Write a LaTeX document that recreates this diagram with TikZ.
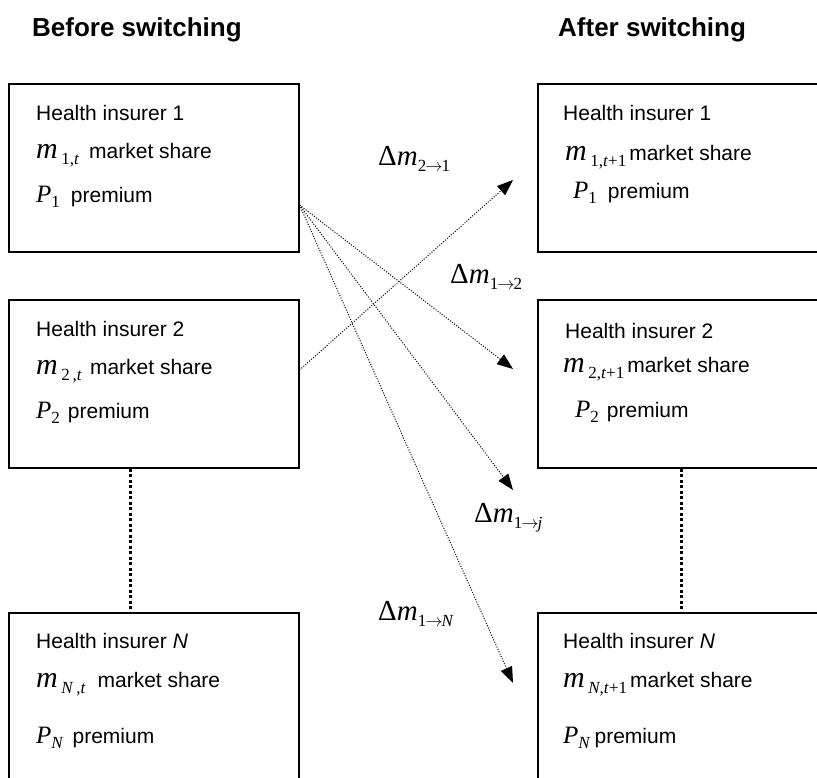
\documentclass[tikz,border=0pt]{standalone}
\usepackage{fontspec}
\setmainfont{Liberation Sans}
\newfontfamily\tms{Liberation Serif}
\usetikzlibrary{arrows.meta}

% market share, premium and flow symbols
\newcommand{\msh}[1]{{\tms\fontsize{30}{30}\selectfont\itshape m}\,\raisebox{-6pt}{\tms\fontsize{17}{17}\selectfont #1}}
\newcommand{\prm}[1]{{\tms\fontsize{25}{25}\selectfont\itshape P}\raisebox{-5pt}{\tms\fontsize{17}{17}\selectfont #1}}
\newcommand{\dm}[1]{{\tms\fontsize{29}{29}\selectfont Δ\textit{m}}\raisebox{-6pt}{\tms\fontsize{17}{17}\selectfont #1}}
\newcommand{\sto}{\hspace{-1pt}$\to$\hspace{-1pt}}

\tikzset{
  insbox/.style={draw, line width=1.5pt, anchor=north west, inner sep=0pt,
    minimum width=290pt, minimum height=168pt},
  rinsbox/.style={insbox, minimum width=300pt},
  txt/.style={anchor=base west, inner sep=0pt, font=\fontsize{21}{25}\selectfont},
  ttl/.style={anchor=base west, inner sep=0pt, font=\fontsize{26}{30}\selectfont\bfseries},
  flowlab/.style={anchor=base west, inner sep=0pt},
  flow/.style={line width=1pt, dash pattern=on 1pt off 1.6pt,
    -{Triangle[length=16pt,width=12pt]}},
  gap/.style={line width=3pt, dash pattern=on 3pt off 2.5pt},
}

\begin{document}
\begin{tikzpicture}[x=1pt,y=-1pt]
	\clip (0,0) rectangle (817,777);

	% Titles
	\node[ttl] (before) at (32,36) {Before switching};
	\node[ttl] (after) at (558,36) {After switching};

	% Boxes before switching
	\node[insbox] (l1) at (8,83) {};
	\node[insbox] (l2) at (8,299) {};
	\node[insbox, minimum height=220pt] (lN) at (8,612) {};
	% Boxes after switching
	\node[rinsbox] (r1) at (537,83) {};
	\node[rinsbox] (r2) at (537,299) {};
	\node[rinsbox, minimum height=220pt] (rN) at (537,612) {};

	% Texts before switching
	\node[txt] (l1name) at (36,120) {Health insurer 1};
	\node[txt] (l1share) at (36,158) {\msh{1,\textit{t}}\hspace{10pt}market share};
	\node[txt] (l1prem) at (36,202) {\prm{1}\hspace{11pt}premium};
	\node[txt] (l2name) at (36,336) {Health insurer 2};
	\node[txt] (l2share) at (36,374) {\msh{2\,,\textit{t}}\hspace{8pt}market share};
	\node[txt] (l2prem) at (36,418) {\prm{2}\hspace{8pt}premium};
	\node[txt] (lNname) at (36,648) {Health insurer \textit{N}};
	\node[txt] (lNshare) at (36,687) {\msh{\textit{N}\,,\textit{t}}\hspace{12pt}market share};
	\node[txt] (lNprem) at (36,743) {\prm{\textit{N}}\hspace{9pt}premium};

	% Texts after switching
	\node[txt] (r1name) at (563,120) {Health insurer 1};
	\node[txt] (r1share) at (565,160) {\msh{1,\textit{t}+1}\hspace{3pt}market share};
	\node[txt] (r1prem) at (573,198) {\prm{1}\hspace{11pt}premium};
	\node[txt] (r2name) at (565,338) {Health insurer 2};
	\node[txt] (r2share) at (563,372) {\msh{2,\textit{t}+1}\hspace{3pt}market share};
	\node[txt] (r2prem) at (575,417) {\prm{2}\hspace{8pt}premium};
	\node[txt] (rNname) at (563,648) {Health insurer \textit{N}};
	\node[txt] (rNshare) at (563,687) {\msh{\textit{N},\textit{t}+1}\hspace{3pt}market share};
	\node[txt] (rNprem) at (563,743) {\prm{\textit{N}}\hspace{4pt}premium};

	% Omitted insurers
	\draw[gap] ([xshift=122pt]l2.south west) -- ([xshift=122pt]lN.north west);
	\draw[gap] ([xshift=144pt]r2.south west) -- ([xshift=144pt]rN.north west);

	% Switching flows
	\coordinate (from1) at ([yshift=-122pt]l1.north east);
	\coordinate (from2) at ([yshift=-71pt]l2.north east);
	\coordinate (to21) at (513,180);
	\coordinate (to12) at (513,369);
	\coordinate (to1j) at (513,490);
	\coordinate (to1N) at (513,683);
	\draw[flow] (from2) -- (to21);
	\draw[flow] (from1) -- (to12);
	\draw[flow] (from1) -- (to1j);
	\draw[flow] (from1) -- (to1N);

	\node[flowlab] (lab21) at (378,165) {\dm{2\sto1}};
	\node[flowlab] (lab12) at (450,283) {\dm{1\sto2}};
	\node[flowlab] (lab1j) at (474,522) {\dm{1\sto\textit{j}}};
	\node[flowlab] (lab1N) at (378,620) {\dm{1\sto\textit{N}}};
\end{tikzpicture}
\end{document}
